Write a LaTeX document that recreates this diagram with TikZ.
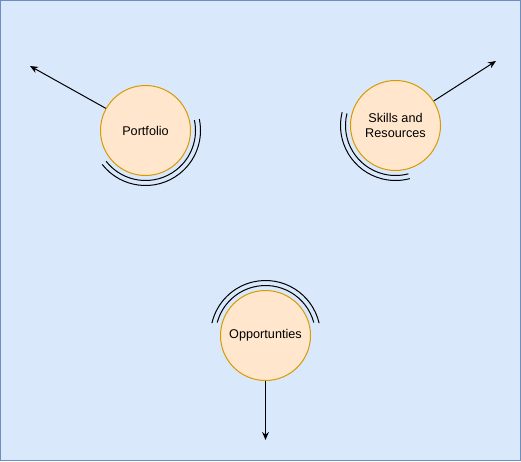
\documentclass[tikz,border=0pt]{standalone}
\usepackage{fontspec}
\setmainfont{Liberation Sans}
\usetikzlibrary{arrows.meta,positioning}
\definecolor{bgfill}{HTML}{DAE8FC}
\definecolor{bgline}{HTML}{6C8EBF}
\definecolor{ballfill}{HTML}{FFE6CC}
\definecolor{ballline}{HTML}{D79B00}

\begin{document}
\begin{tikzpicture}[
    x=0.75pt, y=-0.75pt,
    ball/.style={circle, draw=ballline, fill=ballfill, line width=0.75pt, minimum size=67.5pt, inner sep=0pt, align=center, font=\fontsize{9.5}{11.5}\selectfont},
    ring/.style={draw=black, line width=0.75pt},
    link/.style={draw, -{Stealth[length=6pt,width=5pt]}, line width=0.75pt}
]

% Background
\useasboundingbox (0,0) rectangle (521,461);
\draw [fill=bgfill, draw=bgline, line width=0.75pt] (0.5,0.5) rectangle (520.5,460.5);

% Nodes
\node [ball] (portfolio) at (145.5,130.5) {Portfolio};
\node [ball] (skills) at (395.5,125.5) {Skills and\\Resources};
\node [ball] (opps) at (265.5,335.5) {Opportunties};

% Ends of the arrows
\coordinate (portfolioend) at (30,66);
\coordinate (skillsend) at (496,61);
\coordinate (oppsend) at (265.5,440);

% Rings
\draw [ring] ([shift={(-142:37.5pt)}]portfolio.center) arc (-142:12:37.5pt);
\draw [ring] ([shift={(-142:41.25pt)}]portfolio.center) arc (-142:12:41.25pt);
\draw [ring] ([shift={(166:37.5pt)}]skills.center) arc (166:285:37.5pt);
\draw [ring] ([shift={(166:41.25pt)}]skills.center) arc (166:285:41.25pt);
\draw [ring] ([shift={(15:37.5pt)}]opps.center) arc (15:165:37.5pt);
\draw [ring] ([shift={(13:41.25pt)}]opps.center) arc (13:167:41.25pt);

% Edges
\path [link] (portfolio) -- (portfolioend);
\path [link] (skills) -- (skillsend);
\path [link] (opps) -- (oppsend);

\end{tikzpicture}
\end{document}
